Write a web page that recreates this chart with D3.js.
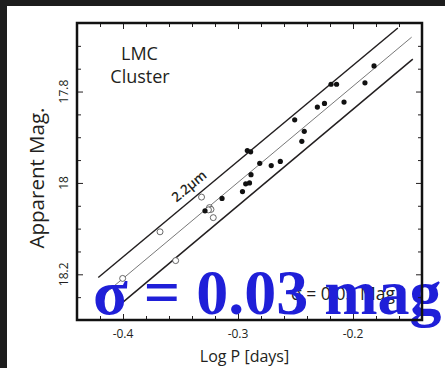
<!DOCTYPE html>
<html lang="en">
<head>
<meta charset="UTF-8">
<title>LMC Cluster PL relation</title>
<script src="https://cdnjs.cloudflare.com/ajax/libs/d3/7.8.5/d3.min.js"></script>
<style>
    body { margin: 0; padding: 0; background: #fff; }
    svg { display: block; font-family: "Open Sans", Arial, sans-serif; }
</style>
</head>
<body>
<div id="chart"></div>
<script>
    // log P [days], apparent magnitude
    const filledStars = [
        [-0.1817, 17.744], [-0.2191, 17.784], [-0.2143, 17.784], [-0.1896, 17.781],
        [-0.2310, 17.834], [-0.2248, 17.826], [-0.2078, 17.823], [-0.2507, 17.862],
        [-0.2424, 17.887], [-0.2445, 17.909], [-0.2919, 17.929], [-0.2890, 17.932],
        [-0.2811, 17.957], [-0.2711, 17.962], [-0.2632, 17.953], [-0.2887, 17.982],
        [-0.2933, 18.002], [-0.2900, 18.000], [-0.2961, 18.019], [-0.3139, 18.034],
        [-0.3287, 18.061]
    ];
    const openStars = [
        [-0.3317, 18.031], [-0.3678, 18.107], [-0.3215, 18.076], [-0.3248, 18.054],
        [-0.3235, 18.058], [-0.3257, 18.059], [-0.3542, 18.170], [-0.4003, 18.209]
    ];
    // fitted PL relation and its bounds: [start, end] in [logP, mag]
    const upperLine = [[-0.4215, 18.207], [-0.161, 17.661]];
    const fitLine = [[-0.417, 18.245], [-0.149, 17.681]];
    const lowerLine = [[-0.400, 18.261], [-0.148, 17.729]];

    const xMajor = [-0.4, -0.3, -0.2];
    const xMinor = [-0.42, -0.38, -0.36, -0.34, -0.32, -0.28, -0.26, -0.24, -0.22, -0.18, -0.16];
    const yMajor = [17.8, 18, 18.2];
    const yMinor = [17.7, 17.75, 17.85, 17.9, 17.95, 18.05, 18.1, 18.15, 18.25];

    const bandLabel = { text: "2.2\u03bcm", logP: -0.3426, mag: 18.007 };

    const W = 445, H = 368;
    const plot = { left: 77, top: 23, right: 422, bottom: 320 };

    const svg = d3.select("#chart").append("svg")
        .attr("width", W)
        .attr("height", H);

    // dark strip from the page behind the figure
    svg.append("rect").attr("width", W).attr("height", H).attr("fill", "#1d1d1d");
    svg.append("rect").attr("x", 7).attr("y", 6).attr("width", W - 7).attr("height", H - 6).attr("fill", "#fff");

    const x = d3.scaleLinear().domain([-0.44, -0.14]).range([plot.left, plot.right]);
    const y = d3.scaleLinear().domain([17.65, 18.30]).range([plot.top, plot.bottom]);

    const ink = "#231f20";

    // relation lines
    const line = d3.line().x(d => x(d[0])).y(d => y(d[1]));
    svg.append("path").datum(upperLine).attr("d", line)
        .attr("fill", "none").attr("stroke", ink).attr("stroke-width", 1.5);
    svg.append("path").datum(lowerLine).attr("d", line)
        .attr("fill", "none").attr("stroke", ink).attr("stroke-width", 1.5);
    svg.append("path").datum(fitLine).attr("d", line)
        .attr("fill", "none").attr("stroke", "#555").attr("stroke-width", 0.8);

    // stars
    svg.selectAll(".open").data(openStars).enter().append("circle")
        .attr("class", "open")
        .attr("cx", d => x(d[0]))
        .attr("cy", d => y(d[1]))
        .attr("r", 3)
        .attr("fill", "#fff")
        .attr("stroke", "#444")
        .attr("stroke-width", 0.8);

    svg.selectAll(".filled").data(filledStars).enter().append("circle")
        .attr("class", "filled")
        .attr("cx", d => x(d[0]))
        .attr("cy", d => y(d[1]))
        .attr("r", 2.6)
        .attr("fill", "#111");

    // band label along the upper line
    const angle = Math.atan2(y(upperLine[1][1]) - y(upperLine[0][1]),
        x(upperLine[1][0]) - x(upperLine[0][0])) * 180 / Math.PI;
    svg.append("text")
        .attr("transform", `translate(${x(bandLabel.logP)},${y(bandLabel.mag)}) rotate(${angle})`)
        .attr("text-anchor", "middle")
        .attr("dy", "0.35em")
        .attr("font-size", 13.5)
        .attr("font-weight", 600)
        .attr("fill", ink)
        .text(bandLabel.text);

    // panel label
    const panel = svg.append("text")
        .attr("text-anchor", "middle")
        .attr("font-size", 18)
        .attr("fill", ink);
    panel.append("tspan").attr("x", 139.5).attr("y", 60).text("LMC");
    panel.append("tspan").attr("x", 140).attr("y", 83).text("Cluster");

    // original dispersion note, mostly hidden under the overlay
    svg.append("text")
        .attr("x", 291)
        .attr("y", 300)
        .attr("font-size", 17.5)
        .attr("fill", ink)
        .text("\u03c3 = 0.05 Mag");

    // blue overlay
    svg.append("text")
        .attr("x", 93)
        .attr("y", 314)
        .attr("font-family", "'Liberation Serif', 'Times New Roman', serif")
        .attr("font-weight", "bold")
        .attr("font-size", 64)
        .attr("fill", "#1f1fd8")
        .text("\u03c3 = 0.03 mag");

    // axes: ticks point inward on all four sides
    function ticks(axis, pos, vals, size) {
        const g = svg.append("g")
            .attr("transform", pos)
            .call(axis.tickValues(vals).tickSize(-size).tickFormat(""));
        g.select(".domain").remove();
        g.selectAll("text").remove();
        g.selectAll("line").attr("stroke", ink).attr("stroke-width", 1);
        return g;
    }
    ticks(d3.axisBottom(x), `translate(0,${plot.bottom})`, xMajor, 6);
    ticks(d3.axisBottom(x), `translate(0,${plot.bottom})`, xMinor, 4);
    ticks(d3.axisTop(x), `translate(0,${plot.top})`, xMajor, 6);
    ticks(d3.axisTop(x), `translate(0,${plot.top})`, xMinor, 4);
    ticks(d3.axisLeft(y), `translate(${plot.left},0)`, yMajor, 6);
    ticks(d3.axisLeft(y), `translate(${plot.left},0)`, yMinor, 4);
    ticks(d3.axisRight(y), `translate(${plot.right},0)`, yMajor, 6);
    ticks(d3.axisRight(y), `translate(${plot.right},0)`, yMinor, 4);

    svg.selectAll(".xlab").data(xMajor).enter().append("text")
        .attr("class", "xlab")
        .attr("x", d => x(d))
        .attr("y", 338)
        .attr("text-anchor", "middle")
        .attr("font-size", 12)
        .attr("fill", ink)
        .text(d => d3.format(".1f")(d).replace("\u2212", "-"));

    svg.selectAll(".ylab").data(yMajor).enter().append("text")
        .attr("class", "ylab")
        .attr("transform", d => `translate(68,${y(d)}) rotate(-90)`)
        .attr("text-anchor", "middle")
        .attr("font-size", 12)
        .attr("fill", ink)
        .text(d => d3.format("")(d));

    svg.append("text")
        .attr("x", 244.5)
        .attr("y", 361.5)
        .attr("text-anchor", "middle")
        .attr("font-size", 16)
        .attr("fill", ink)
        .text("Log P [days]");

    svg.append("text")
        .attr("transform", "translate(44,178) rotate(-90)")
        .attr("text-anchor", "middle")
        .attr("font-size", 20.5)
        .attr("fill", ink)
        .text("Apparent  Mag.");

    // frame on top
    svg.append("rect")
        .attr("x", plot.left)
        .attr("y", plot.top)
        .attr("width", plot.right - plot.left)
        .attr("height", plot.bottom - plot.top)
        .attr("fill", "none")
        .attr("stroke", "#111")
        .attr("stroke-width", 2.5);
</script>
</body>
</html>
